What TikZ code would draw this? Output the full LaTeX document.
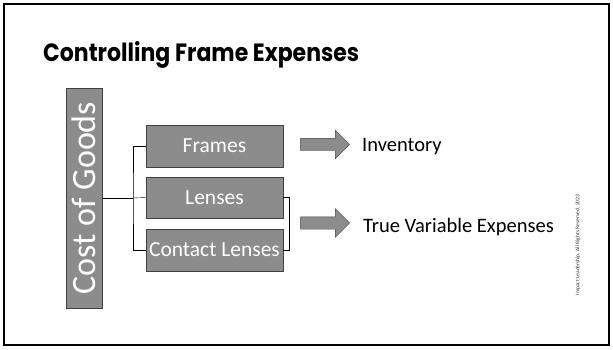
\documentclass[tikz,border=0pt]{standalone}
\usepackage{fontspec}
\setmainfont{Carlito}
\newfontfamily\titlefont{Poppins}
\usetikzlibrary{shapes.arrows}

\begin{document}
\begin{tikzpicture}[x=1pt, y=-1pt,
	graybox/.style={draw=black!75, fill=black!45, text=white, inner sep=0pt, font=\fontsize{21.5}{24}\selectfont},
	blockarrow/.style={single arrow, draw=black!75, fill=black!45, inner xsep=0pt, inner ysep=6pt,
		minimum height=49pt, single arrow head extend=8pt},
	label/.style={anchor=west, inner sep=0pt, font=\fontsize{20.5}{24}\selectfont}]
	\useasboundingbox (0,0) rectangle (613,349);

	% Slide frame
	\draw[line width=1.5pt] (4,4) rectangle (609,345);

	% Title
	\node[anchor=base west, inner sep=0pt, font=\titlefont\bfseries\fontsize{25}{30}\selectfont] (title) at (43,61) {\scalebox{0.88}[1]{Controlling Frame Expenses}};

	% Boxes
	\node[graybox, minimum width=36pt, minimum height=220pt] (cog) at (84,198) {};
	\node[rotate=90, text=white, font=\fontsize{34}{36}\selectfont] (cogtext) at (84,198) {Cost of Goods};
	\node[graybox, minimum width=137pt, minimum height=42pt] (frames) at (214.5,146) {Frames};
	\node[graybox, minimum width=137pt, minimum height=41pt] (lenses) at (214.5,197.5) {Lenses};
	\node[graybox, minimum width=137pt, minimum height=42pt] (contact) at (214.5,250) {Contact Lenses};

	% Tree lines
	\coordinate (fork) at (133,198);
	\draw (cog.east) -- (fork);
	\draw (frames.west) -| (fork) |- (contact.west);
	\draw (fork) -- (lenses.west);
	\draw (lenses.east) -- ++(6,0) |- (contact.east);

	% Arrows
	\node[blockarrow] (arrinv) at (322,144.5) {};
	\node[blockarrow] (arrvar) at (322,223) {};
	\node[label] (inventory) at (362,147) {Inventory};
	\node[label] (variable) at (363,227) {True Variable Expenses};

	% Copyright
	\node[rotate=90, font=\fontsize{5.5}{6}\selectfont, text=black!80] (copy) at (578,245) {Impact Leadership. All Rights Reserved. 2023};
\end{tikzpicture}
\end{document}
